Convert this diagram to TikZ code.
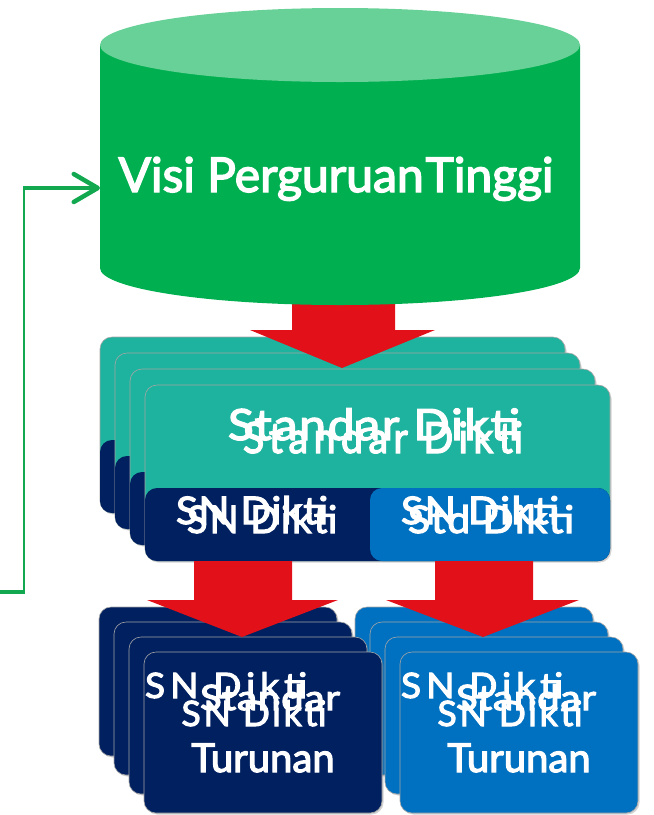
\documentclass[tikz,border=0pt]{standalone}
\usepackage{fontspec}
\setmainfont{Lato}
\newfontfamily\heavyfont{Lato}[FakeBold=3]
\usetikzlibrary{arrows.meta,shadows}
\definecolor{cylbody}{HTML}{00B050}
\definecolor{cyltop}{HTML}{68D197}
\definecolor{tealc}{HTML}{1DB39E}
\definecolor{navyc}{HTML}{002060}
\definecolor{bluec}{HTML}{0070C0}
\definecolor{redc}{HTML}{E21019}
\definecolor{greenc}{HTML}{12A850}
\newcommand{\fitw}[3]{\resizebox{#1pt}{\height}{\addfontfeature{LetterSpace=#2}#3}}
\tikzset{
  cardshape/.style={rounded corners=12pt, draw=black!35, line width=0.6pt,
    drop shadow={shadow xshift=1.5pt, shadow yshift=-1.5pt, opacity=0.35}},
  redarrow/.style={fill=redc, draw=none},
  wtxt/.style={text=white, inner sep=0pt, anchor=base},
  fs/.style={font=\heavyfont\fontsize{#1}{#1}\selectfont},
  greenthick/.style={draw=greenc, line width=4.5pt},
  greenthin/.style={draw=greenc, line width=1.6pt},
}
\begin{document}
\begin{tikzpicture}[x=1pt,y=-1pt]
\useasboundingbox (0,0) rectangle (654,815);
% ---- top stack
\foreach \i in {0,1,2,3}{
  \pgfmathsetmacro\L{100+15*\i}
  \pgfmathsetmacro\T{337+16*\i}
  \fill[cardshape, fill=tealc] (\L,\T) rectangle ({\L+465},{\T+176});
  \fill[rounded corners=12pt, fill=navyc] (\L,{\T+103}) rectangle ({\L+465},{\T+176});
}
\fill[rounded corners=12pt, fill=bluec] (370,488) rectangle (610,561);
% ---- red arrow 1
\fill[redarrow] (292,295) -- (395,295) -- (395,330) -- (435,330) -- (342,368) -- (250,330) -- (292,330) -- cycle;
% ---- cylinder
\fill[cylbody] (100,45) -- (100,268) arc[start angle=180, end angle=0, x radius=240, y radius=37] -- (580,45) -- cycle;
\fill[cyltop] (340,45) ellipse[x radius=240, y radius=37];
\coordinate (cylW) at (100,188);
\node[wtxt, fs=48] (visi) at (336,192) {Visi Perguruan\kern2pt Tinggi};
% ---- texts in top stack
\node[wtxt, fs=43] (std1) at (374,440) {\fitw{292}{4}{Standar Dikti}};
\node[wtxt, fs=43] (std2) at (383,453) {\fitw{280}{14}{Standar Dikti}};
\node[wtxt, fs=38] (snl1) at (252,524) {\fitw{152}{2}{SN Dikti}};
\node[wtxt, fs=38] (snl2) at (262,533) {\fitw{150}{6}{SN Dikti}};
\node[wtxt, fs=38] (snr1) at (480,524) {\fitw{158}{4}{SN Dikti}};
\node[wtxt, fs=38] (snr2) at (491,533) {\fitw{166}{4}{Std Dikti}};
% ---- bottom stacks
\foreach \i in {0,1,2,3}{
  \pgfmathsetmacro\L{99+15*\i}
  \pgfmathsetmacro\T{607+15*\i}
  \pgfmathsetmacro\H{149+4*\i}
  \fill[cardshape, fill=navyc] (\L,\T) rectangle ({\L+238},{\T+\H});
  \pgfmathsetmacro\R{355+15*\i}
  \fill[cardshape, fill=bluec] (\R,\T) rectangle ({\R+238},{\T+\H});
}
% ---- red arrows 2,3
\fill[redarrow] (194,561) -- (292,561) -- (292,600) -- (338,600) -- (242,637) -- (147,600) -- (194,600) -- cycle;
\fill[redarrow] (435,561) -- (533,561) -- (533,600) -- (579,600) -- (483,637) -- (386,600) -- (435,600) -- cycle;
% ---- texts in bottom stacks
\foreach \dx/\nm in {0/l,256/r}{
  \node[wtxt, fs=35] (bt1\nm) at ({226+\dx},698) {\fitw{162}{14}{SN Dikti}};
  \node[wtxt, fs=35] (bt2\nm) at ({270+\dx},710) {\fitw{140}{2}{Standar}};
  \node[wtxt, fs=35] (bt3\nm) at ({254+\dx},726) {\fitw{145}{8}{SN Dikti}};
  \node[wtxt, fs=40] (bt4\nm) at ({263+\dx},772) {Turunan};
}
% ---- green feedback connector
\coordinate (fb) at (0,592);
\coordinate (fbc) at (24,592);
\coordinate (fbt) at (24,188);
\draw[greenthick] (fb) -- ([xshift=0.8pt]fbc);
\draw[greenthin] (fbc) -- (fbt);
\draw[greenthick, -{Straight Barb[length=24pt,width=28pt,line width=4.5pt,round]}] ([xshift=-0.8pt]fbt) -- (cylW);
\end{tikzpicture}
\end{document}
